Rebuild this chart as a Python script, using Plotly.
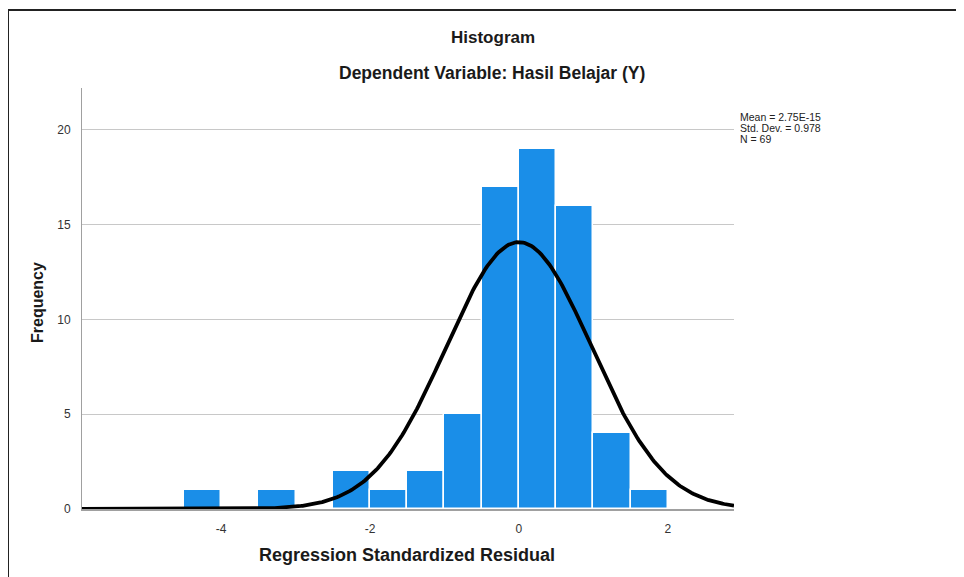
import numpy as np
import plotly.graph_objects as go

# Data (bin width 0.5)
bin_left = [-4.5, -3.5, -2.5, -2.0, -1.5, -1.0, -0.5, 0.0, 0.5, 1.0, 1.5]
counts = [1, 1, 2, 1, 2, 5, 17, 19, 16, 4, 1]
bin_width = 0.5
mean_val = 2.75e-15
std_val = 0.978
n_val = 69
x_ticks = [-4, -2, 0, 2]
y_ticks = [0, 5, 10, 15, 20]

centers = [b + bin_width / 2 for b in bin_left]

# Normal curve defined by the reported statistics
xc = np.linspace(-5.87, 2.89, 400)
yc = n_val * bin_width * np.exp(-0.5 * ((xc - mean_val) / std_val) ** 2) / (std_val * np.sqrt(2 * np.pi))

fig = go.Figure()
fig.add_trace(go.Bar(
    x=centers, y=counts, width=bin_width,
    marker=dict(color="#1a8ee8", line=dict(color="white", width=1.5)),
    hoverinfo="x+y",
))
fig.add_trace(go.Scatter(
    x=xc, y=yc, mode="lines",
    line=dict(color="black", width=3.8),
    hoverinfo="skip",
))

font_family = "Liberation Sans, Arial, sans-serif"
OFF = 8  # page body margin
W, H = 964 - OFF, 577 - OFF
# plot area in screen pixels
PX0, PX1, PY0, PY1 = 82, 734, 88, 509
L, R, T, B = PX0 - OFF, (W + OFF) - PX1, PY0 - OFF, (H + OFF) - PY1
pw, ph = PX1 - PX0, PY1 - PY0

def px_x(px):
    return (px - PX0) / pw

def px_y(py):
    return (PY1 - py) / ph

fig.update_layout(
    width=W, height=H,
    margin=dict(l=L, r=R, t=T, b=B),
    paper_bgcolor="white", plot_bgcolor="white",
    showlegend=False,
    bargap=0,
    font=dict(family=font_family, color="#333333", size=12),
    xaxis=dict(
        range=[-5.87, 2.89], tickvals=x_ticks, ticktext=[str(v) for v in x_ticks],
        showgrid=False, zeroline=False,
        showline=True, linecolor="#a0a0a0", linewidth=1.5,
        ticks="", ticklabelstandoff=8,
        tickfont=dict(size=12, color="#333333"),
    ),
    yaxis=dict(
        range=[0, 22.2], tickvals=y_ticks, ticktext=[str(v) for v in y_ticks],
        showgrid=True, gridcolor="#c8c8c8", gridwidth=1,
        zeroline=False,
        showline=True, linecolor="#a0a0a0", linewidth=1,
        ticks="", ticklabelstandoff=8,
        tickfont=dict(size=12, color="#333333"),
    ),
)

annotations = [
    dict(text="Histogram", x=px_x(493), y=px_y(37),
         font=dict(size=17, color="#1a1a1a", weight="bold")),
    dict(text="Dependent Variable: Hasil Belajar (Y)", x=px_x(492), y=px_y(73),
         font=dict(size=17.5, color="#1a1a1a", weight="bold")),
    dict(text="Regression Standardized Residual", x=px_x(407), y=px_y(555),
         font=dict(size=18, color="#1a1a1a", weight="bold")),
    dict(text="Frequency", x=px_x(37), y=px_y(303), textangle=-90,
         font=dict(size=16, color="#1a1a1a", weight="bold")),
]
stats_lines = ["Mean = 2.75E-15", "Std. Dev. = 0.978", "N = %d" % n_val]
for i, s in enumerate(stats_lines):
    annotations.append(dict(text=s, x=px_x(738), y=px_y(117 + i * 11), xanchor="left",
                            font=dict(size=10.5, color="#222222")))
for a in annotations:
    a.setdefault("xanchor", "center")
    a.update(xref="paper", yref="paper", yanchor="middle", showarrow=False)
fig.update_layout(annotations=annotations)

# Outer frame (top and left edges visible)
fig.add_shape(type="path", xref="paper", yref="paper",
              path="M %f %f L %f %f L %f %f" % (px_x(8), px_y(590), px_x(8), px_y(10), px_x(980), px_y(10)),
              line=dict(color="#222222", width=2))

fig.write_html("out.html")
